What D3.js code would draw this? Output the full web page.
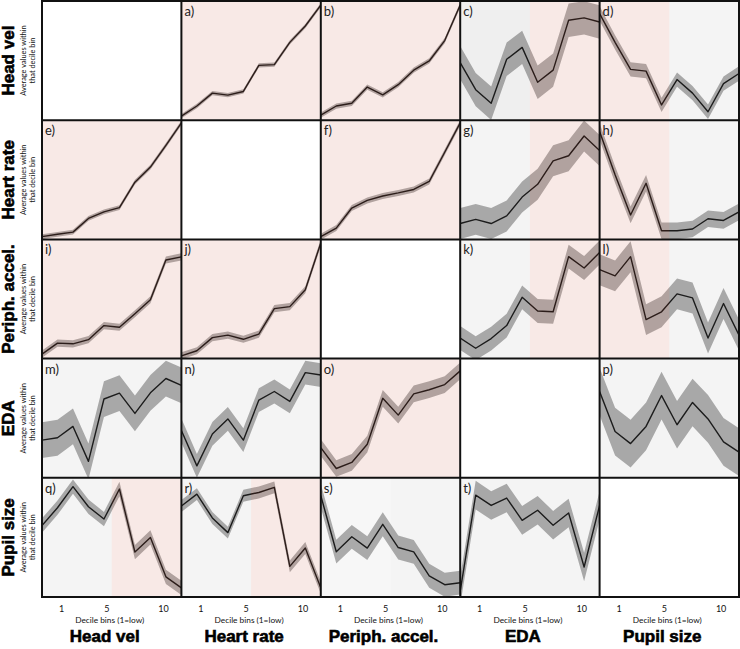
<!DOCTYPE html>
<html><head><meta charset="utf-8">
<script src="https://cdn.jsdelivr.net/npm/d3@7"></script>
<style>body{margin:0;background:#fff}svg{display:block}</style>
</head><body>
<svg id="chart" width="740" height="649"></svg>
<script>
// ---------- DATA ----------
const variables = ["Head vel", "Heart rate", "Periph. accel.", "EDA", "Pupil size"];
const deciles = [1, 2, 3, 4, 5, 6, 7, 8, 9, 10];
const tickValues = [1, 5, 10];
const tickLabels = ["1", "5", "10"];
const xTitle = "Decile bins (1=low)";
const yTitleLines = ["Average values within", "that decile bin"];
const panelLetters = ["a","b","c","d","e","f","g","h","i","j","k","l","m","n","o","p","q","r","s","t"];

// normalised average value in each decile bin (0 = panel bottom, 1 = panel top)
const vals_a = [0.034, 0.119, 0.227, 0.210, 0.241, 0.460, 0.466, 0.653, 0.790, 0.966];
const vals_b = [0.043, 0.119, 0.142, 0.278, 0.213, 0.298, 0.420, 0.497, 0.668, 0.966];
const vals_c = [0.483, 0.256, 0.142, 0.511, 0.611, 0.318, 0.420, 0.838, 0.858, 0.824];
const vals_d = [0.895, 0.653, 0.426, 0.412, 0.128, 0.341, 0.227, 0.071, 0.307, 0.392];
const vals_e = [0.023, 0.043, 0.061, 0.176, 0.231, 0.266, 0.480, 0.607, 0.789, 0.977];
const vals_f = [0.023, 0.095, 0.263, 0.327, 0.364, 0.390, 0.419, 0.486, 0.731, 0.977];
const vals_g = [0.133, 0.168, 0.133, 0.197, 0.355, 0.462, 0.659, 0.702, 0.867, 0.746];
const vals_h = [0.905, 0.543, 0.205, 0.471, 0.072, 0.072, 0.087, 0.173, 0.159, 0.231];
const vals_i = [0.038, 0.130, 0.124, 0.159, 0.277, 0.263, 0.376, 0.494, 0.827, 0.853];
const vals_j = [0.023, 0.066, 0.176, 0.197, 0.162, 0.205, 0.419, 0.436, 0.578, 0.971];
const vals_k = [0.173, 0.087, 0.168, 0.277, 0.514, 0.399, 0.393, 0.855, 0.760, 0.890];
const vals_l = [0.746, 0.694, 0.855, 0.327, 0.393, 0.543, 0.509, 0.173, 0.462, 0.197];
const vals_m = [0.316, 0.336, 0.431, 0.138, 0.661, 0.710, 0.540, 0.713, 0.833, 0.776];
const vals_n = [0.397, 0.100, 0.368, 0.494, 0.316, 0.652, 0.724, 0.641, 0.882, 0.862];
const vals_o = [0.253, 0.078, 0.129, 0.282, 0.667, 0.526, 0.704, 0.739, 0.782, 0.897];
const vals_p = [0.724, 0.388, 0.287, 0.431, 0.690, 0.445, 0.632, 0.494, 0.302, 0.216];
const vals_q = [0.600, 0.749, 0.926, 0.757, 0.654, 0.906, 0.377, 0.500, 0.169, 0.077];
const vals_r = [0.763, 0.863, 0.663, 0.540, 0.849, 0.877, 0.920, 0.257, 0.411, 0.077];
const vals_s = [0.850, 0.380, 0.505, 0.410, 0.610, 0.415, 0.378, 0.178, 0.103, 0.120];
const vals_t = [0.050, 0.855, 0.768, 0.830, 0.643, 0.728, 0.602, 0.705, 0.252, 0.768];

// half-width of the error band per panel (same normalised units)
const bandHalf = [0.018, 0.022, 0.14, 0.06, 0.02, 0.025, 0.13, 0.07, 0.03, 0.03,
                  0.10, 0.13, 0.15, 0.10, 0.07, 0.20, 0.06, 0.05, 0.10, 0.12];
// significant region per panel: which half of the decile range is highlighted
const shading = ["pink","pink","gray-pink","pink-gray","pink","pink","gray-pink","pink-gray",
                 "pink","pink","gray-pink","pink-gray","gray","gray","pink","gray",
                 "gray-pink","gray-pink","gray","gray"];

const seriesValues = [vals_a,vals_b,vals_c,vals_d,vals_e,vals_f,vals_g,vals_h,vals_i,vals_j,
                      vals_k,vals_l,vals_m,vals_n,vals_o,vals_p,vals_q,vals_r,vals_s,vals_t];

// ---------- LAYOUT ----------
const svg = d3.select("#chart");
const colEdge = d3.scaleLinear().domain([0, 5]).range([42, 739]);
const rowEdge = d3.scaleLinear().domain([0, 5]).range([1, 597]);
const pw = colEdge(1) - colEdge(0), ph = rowEdge(1) - rowEdge(0);
const x = d3.scaleLinear().domain([1, 10]).range([0, pw]);
const y = d3.scaleLinear().domain([0, 1]).range([ph, 0]);
const xTick = d3.scaleLinear().domain([1, 10]).range([19, 121]);

const defs = svg.append("defs");
defs.append("clipPath").attr("id", "pclip").append("rect").attr("width", pw).attr("height", ph);

const area = d3.area().x((d, i) => x(deciles[i])).y0(d => y(d.v - d.h)).y1(d => y(d.v + d.h));
const line = d3.line().x((d, i) => x(deciles[i])).y(d => y(d));

let k = 0;
for (let r = 0; r < 5; r++) {
  for (let c = 0; c < 5; c++) {
    const g = svg.append("g").attr("transform", `translate(${colEdge(c)},${rowEdge(r)})`);
    if (r === c) {
      g.append("rect").attr("width", pw).attr("height", ph).attr("fill", "#fff");
      continue;
    }
    const vals = seriesValues[k], hw = bandHalf[k], sh = shading[k], letter = panelLetters[k];
    const inner = g.append("g").attr("clip-path", "url(#pclip)");
    const mid = x(5.5);
    // base backgrounds
    const grayCol = (k === 2) ? "#efefef" : "#f4f4f4";
    let pinkRange = null;
    if (sh === "pink") { pinkRange = [0, pw]; }
    else if (sh === "gray-pink") { pinkRange = [mid, pw]; }
    else if (sh === "pink-gray") { pinkRange = [0, mid]; }
    inner.append("rect").attr("width", pw).attr("height", ph).attr("fill", grayCol);
    if (k === 18) inner.append("rect").attr("width", mid).attr("height", ph).attr("fill", "#f7f7f7");
    if (pinkRange) inner.append("rect").attr("x", pinkRange[0]).attr("width", pinkRange[1] - pinkRange[0])
        .attr("height", ph).attr("fill", "#fff");
    // band and mean line
    inner.append("path").datum(vals.map(v => ({v: v, h: hw})))
      .attr("d", area).attr("fill", "#000").attr("fill-opacity", 0.31);
    inner.append("path").datum(vals).attr("d", line)
      .attr("fill", "none").attr("stroke", "#1c1c1c").attr("stroke-width", 1.4)
      .attr("stroke-linejoin", "round");
    // pink highlight overlay
    if (pinkRange) inner.append("rect").attr("x", pinkRange[0]).attr("width", pinkRange[1] - pinkRange[0])
        .attr("height", ph).attr("fill", "rgb(185,35,5)").attr("fill-opacity", 0.1);
    g.append("text").attr("x", 3).attr("y", 15).text(letter + ")")
      .attr("font-family", "Lato, 'Open Sans', sans-serif").attr("font-size", 13).attr("fill", "#222");
    k++;
  }
}

// grid lines
const gridG = svg.append("g");
d3.range(6).forEach(i => {
  gridG.append("line").attr("x1", colEdge(i)).attr("x2", colEdge(i)).attr("y1", rowEdge(0)).attr("y2", rowEdge(5))
    .attr("stroke", "#111").attr("stroke-width", 2);
  gridG.append("line").attr("y1", rowEdge(i)).attr("y2", rowEdge(i)).attr("x1", colEdge(0) - 1).attr("x2", colEdge(5) + 1)
    .attr("stroke", "#111").attr("stroke-width", 2);
});

// x axes (tick labels), titles, column labels
variables.forEach((name, c) => {
  const x0 = colEdge(c);
  const ax = svg.append("g").attr("transform", `translate(${x0},${rowEdge(5)})`)
    .call(d3.axisBottom(xTick).tickValues(tickValues).tickFormat((d, i) => tickLabels[i]).tickSize(0).tickPadding(9));
  ax.select(".domain").remove();
  ax.selectAll("text").attr("font-family", "Lato, sans-serif").attr("font-size", 9).attr("fill", "#111");
  const cx = x0 + pw / 2;
  svg.append("text").attr("x", cx - 2).attr("y", 623).attr("text-anchor", "middle")
    .attr("font-family", "Lato, sans-serif").attr("font-size", 8.3).attr("fill", "#111").text(xTitle);
  svg.append("text").attr("x", cx - 7).attr("y", 642).attr("text-anchor", "middle")
    .attr("font-family", "'Liberation Sans', Arial, sans-serif").attr("font-weight", "bold").attr("font-size", 17)
    .attr("stroke", "#000").attr("stroke-width", 0.6).attr("fill", "#000").text(name);
});

// row labels
variables.forEach((name, r) => {
  const cy = (rowEdge(r) + rowEdge(r + 1)) / 2;
  svg.append("text").attr("transform", `translate(14,${cy}) rotate(-90)`).attr("text-anchor", "middle")
    .attr("font-family", "'Liberation Sans', Arial, sans-serif").attr("font-weight", "bold").attr("font-size", 17)
    .attr("stroke", "#000").attr("stroke-width", 0.6).attr("fill", "#000").text(name);
  yTitleLines.forEach((t, i) => {
    svg.append("text").attr("transform", `translate(${25.5 + i * 9},${cy}) rotate(-90)`).attr("text-anchor", "middle")
      .attr("font-family", "Lato, sans-serif").attr("font-size", 7.4).attr("fill", "#111").text(t);
  });
});
</script>
</body></html>
